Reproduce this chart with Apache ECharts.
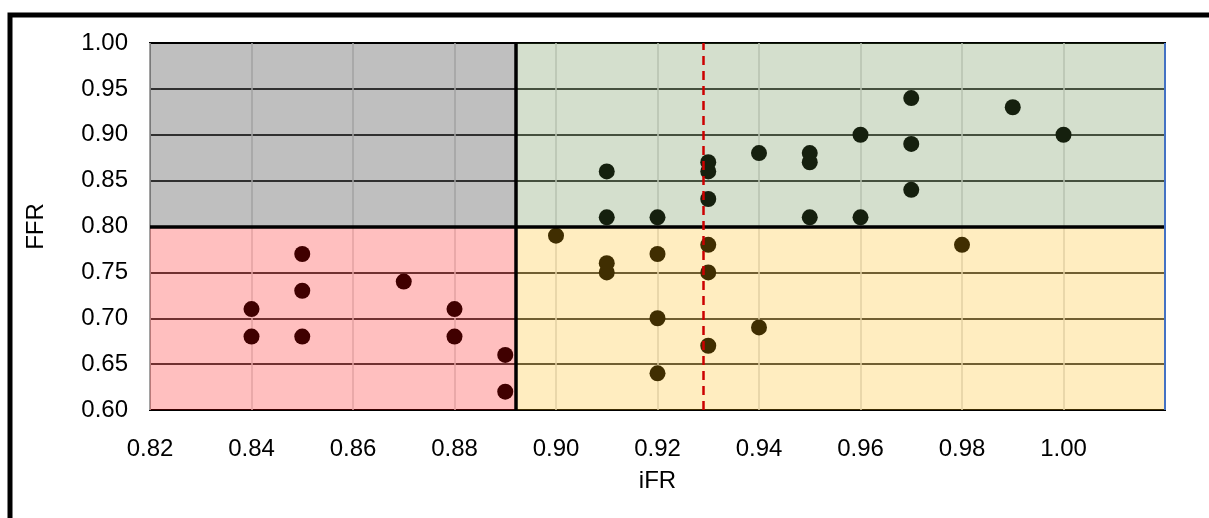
<!DOCTYPE html>
<html>
<head>
<meta charset="utf-8">
<script src="https://cdn.jsdelivr.net/npm/echarts@6/dist/echarts.min.js"></script>
<style>html,body{margin:0;padding:0;background:#fff;}#c{width:1209px;height:518px;}</style>
</head>
<body>
<div id="c"></div>
<script>
// iFR (x) and FFR (y) values
const iFR = [0.84,0.84,0.85,0.85,0.85,0.87,0.88,0.88,0.89,0.89,
             0.90,0.91,0.91,0.92,0.92,0.92,0.93,0.93,0.93,0.94,0.98,
             0.91,0.91,0.92,0.93,0.93,0.93,0.94,0.95,0.95,0.95,0.96,0.96,0.97,0.97,0.97,0.99,1.00];
const FFR = [0.71,0.68,0.77,0.73,0.68,0.74,0.71,0.68,0.66,0.62,
             0.79,0.76,0.75,0.77,0.70,0.64,0.78,0.75,0.67,0.69,0.78,
             0.86,0.81,0.81,0.87,0.86,0.83,0.88,0.88,0.87,0.81,0.90,0.81,0.94,0.89,0.84,0.93,0.90];
const xRange = [0.82, 1.02];
const yRange = [0.60, 1.00];
const iFRCut = 0.892;
const FFRCut = 0.80;
const iFRRef = 0.929;

const points = iFR.map((x, i) => [x, FFR[i]]);
const font = 'Liberation Sans, Arial, sans-serif';

const chart = echarts.init(document.getElementById('c'), null, {renderer: 'canvas'});
chart.setOption({
  backgroundColor: '#fff',
  animation: false,
  graphic: [{
    type: 'rect', z: 100, silent: true,
    shape: {x: 10, y: 15, width: 1240, height: 560},
    style: {fill: 'none', stroke: '#000', lineWidth: 5}
  }],
  grid: {left: 150, top: 43, right: 44, bottom: 108, show: true, borderColor: '#000', borderWidth: 2, backgroundColor: 'transparent'},
  xAxis: {
    type: 'value', min: xRange[0], max: xRange[1], interval: 0.02,
    name: 'iFR', nameLocation: 'middle', nameGap: 59,
    nameTextStyle: {fontFamily: font, fontSize: 24, color: '#000'},
    axisLine: {show: false}, axisTick: {show: false},
    axisLabel: {fontFamily: font, fontSize: 24, color: '#000', margin: 27, showMaxLabel: false,
      formatter: v => v > 1.01 ? '' : v.toFixed(2)},
    splitLine: {show: true, lineStyle: {color: '#D9D9D9', width: 1.5}}
  },
  yAxis: {
    type: 'value', min: yRange[0], max: yRange[1], interval: 0.05,
    name: 'FFR', nameLocation: 'middle', nameGap: 102,
    nameTextStyle: {fontFamily: font, fontSize: 24, color: '#000'},
    axisLine: {show: false}, axisTick: {show: false},
    axisLabel: {fontFamily: font, fontSize: 24, color: '#000', margin: 22, formatter: v => v.toFixed(2)},
    splitLine: {show: true, lineStyle: {color: '#000', width: 1.5}}
  },
  series: [
    {
      type: 'scatter', z: 2, data: points, symbolSize: 16,
      itemStyle: {color: '#000', opacity: 1}, silent: true
    },
    {
      type: 'scatter', z: 5, data: [], silent: true,
      markArea: {
        silent: true, z: 10,
        data: [
          [{coord: [xRange[0], FFRCut], itemStyle: {color: 'rgba(0,0,0,0.25)'}}, {coord: [iFRCut, yRange[1]]}],
          [{coord: [iFRCut, FFRCut], itemStyle: {color: 'rgba(84,128,56,0.25)'}}, {coord: [xRange[1], yRange[1]]}],
          [{coord: [xRange[0], yRange[0]], itemStyle: {color: 'rgba(255,0,0,0.25)'}}, {coord: [iFRCut, FFRCut]}],
          [{coord: [iFRCut, yRange[0]], itemStyle: {color: 'rgba(255,184,4,0.25)'}}, {coord: [xRange[1], FFRCut]}]
        ]
      }
    },
    {
      type: 'scatter', z: 8, data: [], silent: true,
      markLine: {
        silent: true, z: 12, precision: 4, symbol: 'none', label: {show: false},
        data: [
          {xAxis: iFRCut, lineStyle: {color: '#000', width: 3.5, type: 'solid'}},
          {yAxis: FFRCut, lineStyle: {color: '#000', width: 3.5, type: 'solid'}},
          {xAxis: iFRRef, lineStyle: {color: '#CC0000', width: 2.5, type: [9, 6]}},
          {xAxis: xRange[1], lineStyle: {color: '#4472C4', width: 2, type: 'solid'}}
        ]
      }
    }
  ]
});
</script>
</body>
</html>
